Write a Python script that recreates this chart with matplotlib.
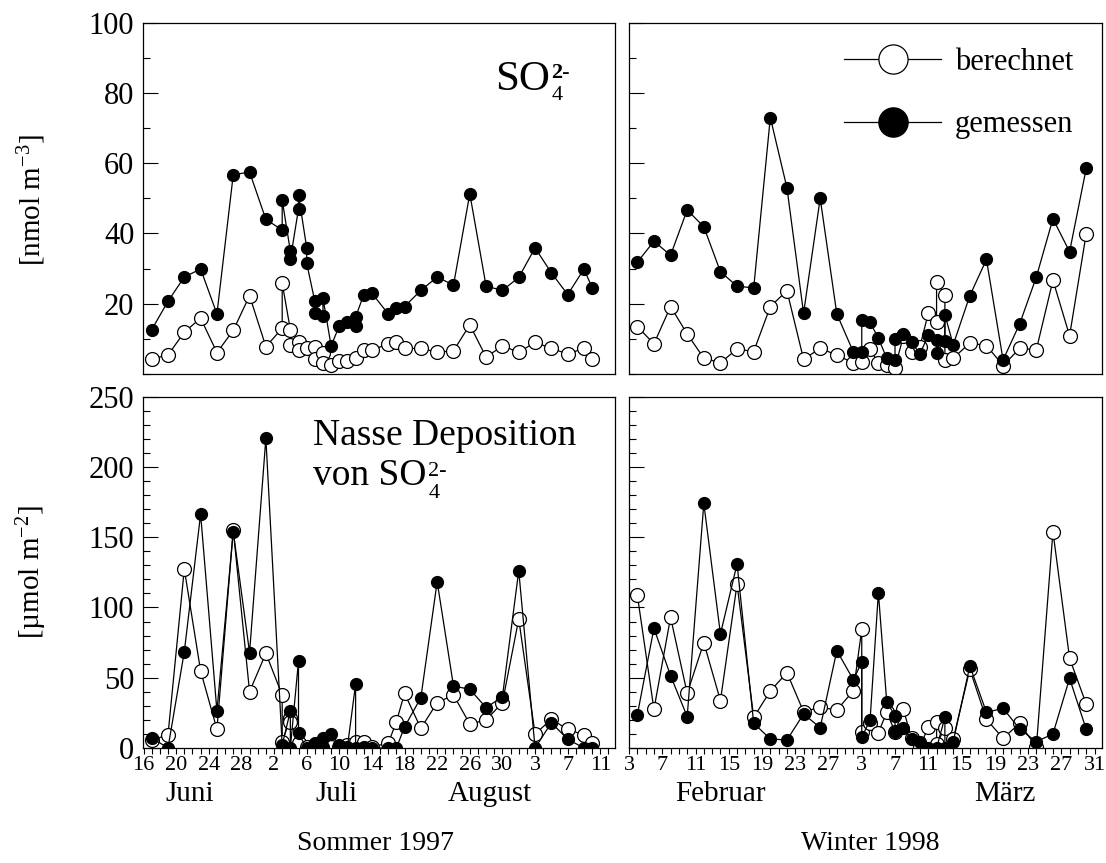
import numpy as np
import matplotlib
matplotlib.use("Agg")
import matplotlib.pyplot as plt
from matplotlib.lines import Line2D
from matplotlib.ticker import MultipleLocator, FixedLocator

plt.rcParams['font.family'] = ['Liberation Serif', 'DejaVu Serif']
plt.rcParams['mathtext.fontset'] = 'custom'
plt.rcParams['mathtext.rm'] = 'Liberation Serif'
plt.rcParams['mathtext.it'] = 'Liberation Serif:italic'
plt.rcParams['mathtext.bf'] = 'Liberation Serif:bold'

# --- data (days after 16 June 1997 / 3 Feb 1998) ---
# Sommer, SO4 concentration [nmol m-3]
s_conc_gem_x = [1, 3, 5, 7, 9, 11, 13, 15, 17, 17, 18, 18, 19, 19, 20, 20, 21, 21, 22, 22,
                23, 24, 25, 26, 26, 27, 28, 30, 31, 32, 34, 36, 38, 40, 42, 44, 46, 48, 50, 52, 54, 55]
s_conc_gem = [12.6, 20.7, 27.6, 29.9, 17.1, 56.7, 57.5, 44, 41, 49.5, 35, 32.6, 47, 51, 36, 31.6,
              20.7, 17.5, 16.4, 21.6, 8, 13.7, 14.7, 13.7, 16.2, 22.6, 23, 17.1, 18.8, 19.2, 23.8,
              27.6, 25.3, 51.3, 25, 23.8, 27.5, 35.9, 28.8, 22.6, 29.9, 24.5]
s_conc_ber_x = [1, 3, 5, 7, 9, 11, 13, 15, 17, 17, 18, 18, 19, 19, 20, 21, 21, 22, 22, 23, 24, 25,
                26, 27, 28, 30, 31, 32, 34, 36, 38, 40, 42, 44, 46, 48, 50, 52, 54, 55]
s_conc_ber = [4.3, 5.4, 11.9, 15.9, 6.1, 12.4, 22.3, 7.8, 13, 25.9, 12.6, 8.3, 9.2, 6.7, 7.3, 7.8,
              4.2, 5.9, 3.1, 2.6, 3.8, 3.8, 4.5, 6.7, 6.9, 8.5, 9.2, 7.3, 7.3, 6.2, 6.6, 14, 4.8,
              8, 6.2, 9, 7.3, 5.7, 7.3, 4.3]

# Winter, SO4 concentration
w_conc_gem_x = [1, 3, 5, 7, 9, 11, 13, 15, 17, 19, 21, 23, 25, 27, 28, 28, 29, 30, 31, 32, 32, 33,
                34, 35, 36, 37, 37, 38, 38, 39, 41, 43, 45, 47, 49, 51, 53, 55]
w_conc_gem = [31.8, 37.8, 33.8, 46.7, 41.9, 29.1, 25, 24.5, 73, 53, 17.3, 50, 17.1, 6.2, 6.2, 15.4,
              14.7, 10.2, 4.5, 4, 9.9, 11.4, 9, 5.7, 11.1, 9.7, 6.1, 9.5, 16.9, 8.3, 22.3, 32.6,
              4, 14.3, 27.6, 44.2, 34.8, 58.5]
w_conc_ber_x = [1, 3, 5, 7, 9, 11, 13, 15, 17, 19, 21, 23, 25, 27, 28, 29, 30, 31, 32, 33, 34, 35,
                36, 37, 37, 38, 38, 39, 41, 43, 45, 47, 49, 51, 53, 55]
w_conc_ber = [13.5, 8.6, 19.2, 11.4, 4.5, 3.2, 7.1, 6.4, 19.2, 23.7, 4.2, 7.3, 5.4, 3.1, 3.5, 7.1,
              3.1, 2.6, 1.8, 10.7, 6.4, 7.8, 17.3, 14.7, 26.1, 22.6, 4, 4.5, 8.8, 8.1, 2.4, 7.3,
              6.9, 26.7, 10.9, 39.9]

# Sommer, wet deposition [umol m-2]
s_dep_gem_x = [1, 3, 5, 7, 9, 11, 13, 15, 17, 18, 18, 19, 19, 20, 21, 22, 22, 23, 24, 25, 26, 26,
               27, 28, 30, 31, 32, 34, 36, 38, 40, 42, 44, 46, 48, 50, 52, 54, 55]
s_dep_gem = [7.3, 0, 68.5, 166.5, 26.3, 154, 67.9, 220.4, 2.1, 26.3, 0, 61.9, 10.4, 0, 3.3, 1, 7,
             10, 2, 1, 45.5, 0, 1, 0, 0, 0, 15, 35.8, 118.4, 44.1, 41.8, 28.7, 36.5, 126.2, 0,
             18, 6.2, 0, 0]
s_dep_ber_x = [1, 3, 5, 7, 9, 11, 13, 15, 17, 17, 18, 18, 19, 20, 21, 22, 23, 24, 25, 26, 27, 28,
               30, 31, 32, 34, 36, 38, 40, 42, 44, 46, 48, 50, 52, 54, 55]
s_dep_ber = [5.7, 9.3, 127.4, 54.8, 13.3, 155.2, 40.1, 67.4, 37.7, 4.5, 21.1, 18.7, 3.3, 1, 2, 0,
             1, 1, 2, 4.5, 4, 1, 3.3, 18.7, 38.9, 14, 32.3, 37.7, 17.1, 19.9, 32.3, 91.8, 10,
             20.4, 13.3, 9.3, 3.8]

# Winter, wet deposition
w_dep_gem_x = [1, 3, 5, 7, 9, 11, 13, 15, 17, 19, 21, 23, 25, 27, 28, 28, 29, 30, 31, 32, 32, 33,
               34, 35, 36, 37, 38, 38, 39, 41, 43, 45, 47, 49, 51, 53, 55]
w_dep_gem = [23.5, 85.2, 51.5, 22.3, 174.1, 81.1, 131, 17.6, 6.4, 5.7, 24.2, 14.5, 69.3, 48.4,
             61.4, 7.6, 19.9, 110.6, 33, 22.8, 11.6, 14, 6.2, 4.5, 0, 0, 21.8, 0, 4.5, 58.4,
             25.4, 28.2, 13.5, 4.5, 10, 49.6, 13.3]
w_dep_ber_x = [1, 3, 5, 7, 9, 11, 13, 15, 17, 19, 21, 23, 25, 27, 28, 28, 29, 30, 31, 32, 33, 34,
               35, 36, 37, 37, 38, 39, 41, 43, 45, 47, 49, 51, 53, 55]
w_dep_ber = [108.9, 27.5, 93, 38.9, 75, 33.7, 116.7, 21.8, 40.6, 53.6, 25.8, 29, 27, 40.8, 84.5,
             11.6, 18, 10.9, 25.4, 11.6, 27.5, 6.9, 0.5, 15.2, 18.7, 3, 14, 6.2, 56, 20.4, 6.9,
             17.6, 0.5, 154, 63.8, 31.3]

s_ticklabels = ['16', '20', '24', '28', '2', '6', '10', '14', '18', '22', '26', '30', '3', '7', '11']
w_ticklabels = ['3', '7', '11', '15', '19', '23', '27', '3', '7', '11', '15', '19', '23', '27', '31']

W, H = 1106, 863
fig = plt.figure(figsize=(W / 100, H / 100), dpi=100)


def box(x0, y0, x1, y1):
    return [x0 / W, 1 - y1 / H, (x1 - x0) / W, (y1 - y0) / H]


def fx(px):
    return px / W


def fy(py):
    return 1 - py / H


ax_tl = fig.add_axes(box(142.7, 22.7, 615, 374))
ax_tr = fig.add_axes(box(629, 22.7, 1102, 374))
ax_bl = fig.add_axes(box(142.7, 396.7, 615, 748))
ax_br = fig.add_axes(box(629, 396.7, 1102, 748))


def draw(ax, xb, yb, xg, yg):
    ax.plot(xb, yb, color='black', lw=0.9, marker='o', ms=10, mfc='white', mec='black',
            mew=0.9, zorder=2)
    ax.plot(xg, yg, color='black', lw=0.9, marker='o', ms=8.5, mfc='black', mec='black',
            zorder=3)


draw(ax_tl, s_conc_ber_x, s_conc_ber, s_conc_gem_x, s_conc_gem)
draw(ax_tr, w_conc_ber_x, w_conc_ber, w_conc_gem_x, w_conc_gem)
draw(ax_bl, s_dep_ber_x, s_dep_ber, s_dep_gem_x, s_dep_gem)
draw(ax_br, w_dep_ber_x, w_dep_ber, w_dep_gem_x, w_dep_gem)

for ax in (ax_tl, ax_bl):
    ax.set_xlim(-0.1, 57.8)
for ax in (ax_tr, ax_br):
    ax.set_xlim(0, 56.9)
for ax in (ax_tl, ax_tr):
    ax.set_ylim(0, 100)
    ax.yaxis.set_major_locator(FixedLocator([20, 40, 60, 80, 100]))
    ax.yaxis.set_minor_locator(MultipleLocator(10))
    ax.tick_params(axis='x', bottom=False, labelbottom=False)
for ax in (ax_bl, ax_br):
    ax.set_ylim(0, 250)
    ax.yaxis.set_major_locator(MultipleLocator(50))
    ax.yaxis.set_minor_locator(MultipleLocator(10))
    ax.xaxis.set_major_locator(FixedLocator(np.arange(0, 57, 4)))
    ax.xaxis.set_minor_locator(MultipleLocator(1))
    ax.tick_params(axis='x', which='both', direction='out', length=4, width=0.8,
                   labelsize=16, pad=2)
ax_bl.set_xticklabels(s_ticklabels)
ax_br.set_xticklabels(w_ticklabels)

for ax in (ax_tl, ax_tr, ax_bl, ax_br):
    ax.tick_params(axis='y', which='major', direction='in', length=11, width=0.8,
                   labelsize=22, pad=6)
    ax.tick_params(axis='y', which='minor', direction='in', length=5, width=0.8)
    for sp in ax.spines.values():
        sp.set_linewidth(0.9)
for ax in (ax_tr, ax_br):
    ax.tick_params(axis='y', which='both', labelleft=False)

fig.text(fx(32), fy(200), '[nmol m$^{-3}$]', fontsize=21, rotation=90, ha='center', va='center')
fig.text(fx(32), fy(572), '[µmol m$^{-2}$]', fontsize=21, rotation=90, ha='center', va='center')

# panel titles with stacked sub/superscripts
so_top = fig.text(fx(495), fy(90), 'SO', fontsize=31, va='baseline')
fig.text(fx(313), fy(445), 'Nasse Deposition', fontsize=27, va='baseline')
so_bot = fig.text(fx(313), fy(485), 'von SO', fontsize=27, va='baseline')
fig.canvas.draw()
r = fig.canvas.get_renderer()
e_top = so_top.get_window_extent(r)
e_bot = so_bot.get_window_extent(r)
fig.text((e_top.x1 + 2) / W, fy(100), '4', fontsize=16, va='baseline')
fig.text((e_top.x1 + 1) / W, fy(78), '2-', fontsize=16, fontweight='bold', va='baseline')
fig.text((e_bot.x1 + 2) / W, fy(498), '4', fontsize=16, va='baseline')
fig.text((e_bot.x1 + 2) / W, fy(476), '2-', fontsize=16, va='baseline')

for label, xc in [('Juni', 190), ('Juli', 336), ('August', 490), ('Februar', 720), ('März', 1005)]:
    fig.text(fx(xc), fy(801), label, fontsize=21, ha='center', va='baseline')
fig.text(fx(375), fy(850), 'Sommer 1997', fontsize=20, ha='center', va='baseline')
fig.text(fx(870), fy(850), 'Winter 1998', fontsize=20, ha='center', va='baseline')

handles = [Line2D([], [], color='black', lw=0.9, marker='o', ms=21, mfc='white', mec='black',
                  mew=0.9),
           Line2D([], [], color='black', lw=0.9, marker='o', ms=21, mfc='black', mec='black')]
ax_tr.legend(handles, ['berechnet', 'gemessen'], loc='upper right', frameon=False,
             fontsize=22, handlelength=3.2, handletextpad=0.45, labelspacing=1.1,
             bbox_to_anchor=(0.985, 0.99), borderaxespad=0.3)

fig.savefig('out.png', dpi=100)
